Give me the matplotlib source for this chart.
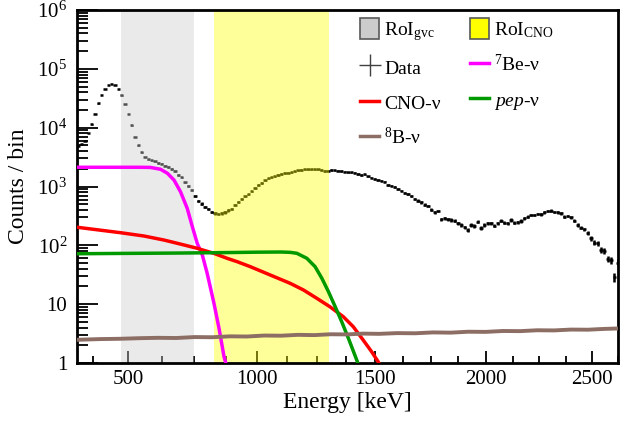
import numpy as np
import matplotlib.pyplot as plt
from matplotlib.patches import Patch
from matplotlib.lines import Line2D
from matplotlib.ticker import MultipleLocator, LogLocator, NullFormatter

plt.rcParams['font.family'] = ['Liberation Serif', 'DejaVu Serif']
plt.rcParams['mathtext.fontset'] = 'custom'
plt.rcParams['mathtext.rm'] = 'Liberation Serif'
plt.rcParams['mathtext.it'] = 'Liberation Serif:italic'

# histogram: first / last bin centre [keV], counts per bin
e_first, e_last = 325, 2623
counts = np.array([
    4900, 5280, 6010, 8120, 11330, 17090, 25760, 35960, 45480, 52500,
    55300, 52500, 45480, 35250, 25290, 17090, 10890, 6950, 4980, 3785,
    3175, 2880, 2770, 2663, 2510, 2415, 2258, 2147, 1985, 1835,
    1570, 1423, 1170, 1021, 873, 690, 567, 514, 454, 415,
    369, 348, 341, 348, 362, 391, 415, 485, 546, 625,
    677, 732, 823, 943, 1061, 1148, 1266, 1379, 1434, 1481,
    1570, 1633, 1698, 1718, 1745, 1814, 1873, 1909, 1947, 1962,
    1962, 1962, 1962, 1909, 1835, 1857, 1909, 1888, 1857, 1835,
    1786, 1745, 1745, 1718, 1633, 1570, 1614, 1492, 1413, 1342,
    1291, 1256, 1208, 1061, 1033, 982, 918, 855, 767, 746,
    698, 625, 578, 535, 494, 472, 406, 365, 384, 280,
    288, 280, 270, 262, 237, 222, 203, 182, 222, 213,
    252, 197, 222, 237, 237, 216, 237, 262, 243, 237,
    270, 243, 246, 259, 288, 307, 328, 328, 341, 337,
    365, 384, 388, 369, 365, 350, 307, 315, 300, 262,
    222, 200, 187, 164, 132, 111, 108, 83, 81, 59,
    56, 29, 51])

# model components (energy [keV], counts / bin)
be7_e = [320, 450, 540, 582, 620, 646, 671, 696, 722, 742, 761, 781, 800, 827, 847, 867, 880]
be7_v = [2122, 2122, 2122, 2110, 1962, 1677, 1290, 816, 426, 207, 108, 68.5, 33.5, 10.3, 3.89, 1.28, 0.8]
cno_e = [320, 472, 558, 633, 696, 761, 827, 880, 920, 973, 1055, 1138, 1194, 1250,
         1306, 1364, 1407, 1450, 1487, 1516, 1525]
cno_v = [203, 164, 144, 123, 105, 89, 73, 60, 52.7, 43.4, 31.3, 22.6, 17.4, 12.6,
         9.06, 6.12, 4.14, 2.46, 1.56, 1.05, 0.9]
pep_e = [320, 500, 700, 900, 1000, 1100, 1138, 1166, 1208, 1243, 1272, 1300, 1329,
         1357, 1386, 1411, 1425, 1432]
pep_v = [72, 73, 74, 75.5, 76.5, 77, 76, 73.2, 60.2, 43.4, 27.5, 16.3, 9.06,
         5.04, 2.63, 1.46, 1.05, 0.85]
b8_e = [320, 400, 470, 540, 610, 680, 750, 820, 890, 960, 1030, 1100, 1170, 1240,
        1310, 1380, 1450, 1520, 1600, 1680, 1760, 1840, 1920, 2000, 2080, 2160,
        2240, 2320, 2400, 2480, 2560, 2625]
b8_v = [2.48, 2.55, 2.58, 2.64, 2.68, 2.66, 2.76, 2.74, 2.84, 2.82, 2.93, 2.91, 3.01, 2.98,
        3.08, 3.06, 3.16, 3.13, 3.22, 3.20, 3.31, 3.28, 3.40, 3.38, 3.50, 3.48,
        3.60, 3.58, 3.70, 3.68, 3.80, 3.86]

roi_gvc = (475, 750)
roi_cno = (828, 1303)

# energy axis is not linear
p = 0.83
fwd = lambda e: np.sign(e) * np.abs(e) ** p
inv = lambda u: np.sign(u) * np.abs(u) ** (1 / p)

u = np.linspace(fwd(e_first), fwd(e_last), len(counts))
du = u[1] - u[0]
energy = inv(u)
xlo = energy - inv(u - du / 2)
xhi = inv(u + du / 2) - energy

fig = plt.figure(figsize=(6.36, 4.24), dpi=100)
ax = fig.add_axes([77 / 636, 61 / 424, 541 / 636, 353 / 424])
ax.set_xscale('function', functions=(fwd, inv))
ax.set_yscale('log')

ax.errorbar(energy, counts, xerr=[xlo, xhi], yerr=np.sqrt(counts), fmt='none',
            ecolor='black', elinewidth=1.8, zorder=1)
ax.axvspan(*roi_gvc, color='0.8', alpha=0.4, lw=0, zorder=2)
ax.axvspan(*roi_cno, color='yellow', alpha=0.4, lw=0, zorder=2)

c_be7, c_cno, c_pep, c_b8 = '#ff00ff', '#ff0000', '#009900', '#8c6e64'
ax.plot(be7_e, be7_v, color=c_be7, lw=2.5, zorder=3)
ax.plot(cno_e, cno_v, color=c_cno, lw=2.5, zorder=3)
ax.plot(pep_e, pep_v, color=c_pep, lw=2.5, zorder=3)
ax.plot(b8_e, b8_v, color=c_b8, lw=2.8, zorder=3)

ax.set_xlim(320, 2625)
ax.set_ylim(1, 1e6)

ax.set_xticks([500, 1000, 1500, 2000, 2500])
ax.xaxis.set_minor_locator(MultipleLocator(125))
ax.set_yticks([1, 10, 1e2, 1e3, 1e4, 1e5, 1e6])
ax.set_yticklabels(['1', '10', '$10^{2}$', '$10^{3}$', '$10^{4}$', '$10^{5}$', '$10^{6}$'])
ax.yaxis.set_minor_locator(LogLocator(base=10, subs=np.arange(2, 10)))
ax.yaxis.set_minor_formatter(NullFormatter())

ax.tick_params(which='both', direction='in', top=False, right=False, labelsize=15, width=1.3)
ax.tick_params(axis='x', which='major', length=9, pad=5)
ax.tick_params(axis='x', which='minor', length=5)
ax.tick_params(axis='y', which='major', length=15, pad=7)
ax.tick_params(axis='y', which='minor', length=8)
for s in ax.spines.values():
    s.set_linewidth(2)

ax.set_xlabel('Energy [keV]', fontsize=17, labelpad=2)
ax.set_ylabel('Counts / bin', fontsize=17, labelpad=6)

handles = [Patch(facecolor='0.8', edgecolor='0.35', lw=1.2),
           Line2D([], [], color='0.25', marker='+', ms=16, mew=1, ls='none'),
           Line2D([], [], color=c_cno, lw=2.5),
           Line2D([], [], color=c_b8, lw=2.5),
           Patch(facecolor='yellow', edgecolor='0.35', lw=1.2),
           Line2D([], [], color=c_be7, lw=2.5),
           Line2D([], [], color=c_pep, lw=2.5)]
labels = [r'RoI$_{\mathrm{gvc}}$', 'Data', 'CNO-ν', r'$^{8}$B-ν',
          r'RoI$_{\mathrm{CNO}}$', r'$^{7}$Be-ν', r'$\mathit{pep}$-ν']
ax.legend(handles, labels, ncol=2, loc='upper left', bbox_to_anchor=(0.523, 0.977),
          frameon=False, fontsize=14, handlelength=1.0, handleheight=1.3,
          handletextpad=0.25, labelspacing=0.72, columnspacing=1.5,
          borderpad=0, borderaxespad=0)

fig.savefig('out.png', dpi=100)
